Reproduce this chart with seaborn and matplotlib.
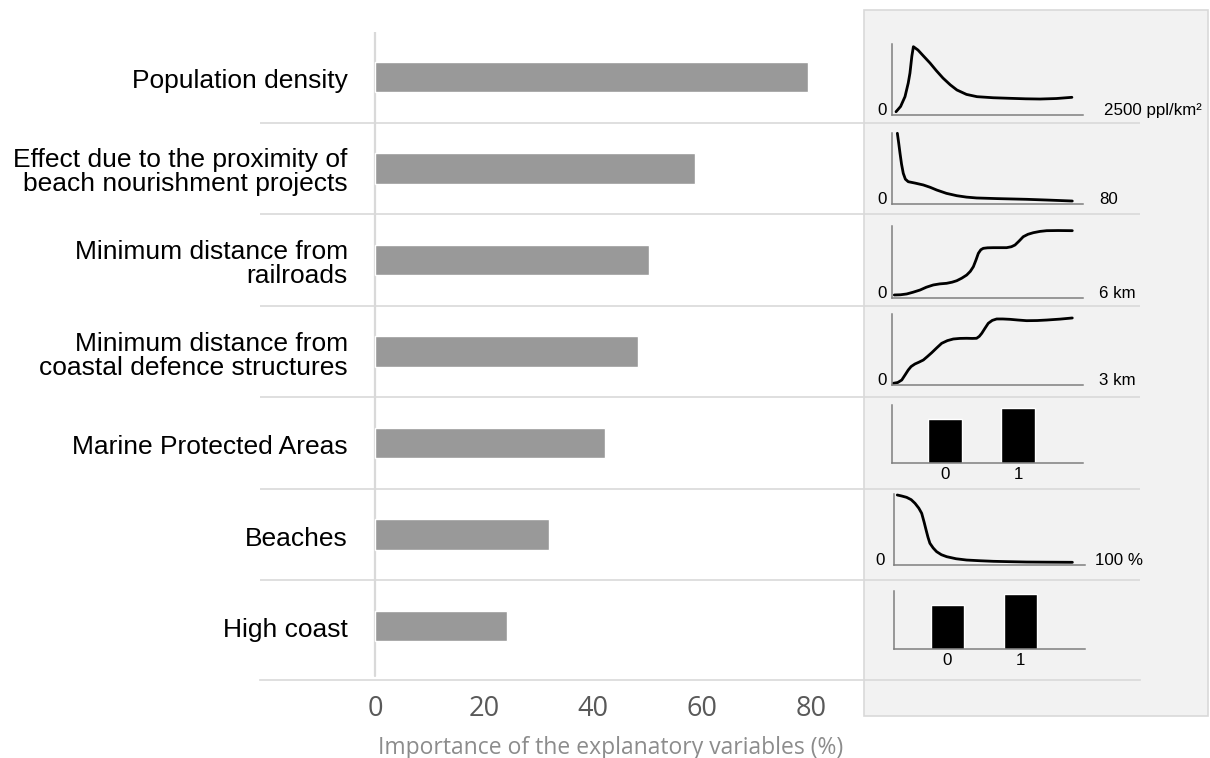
import matplotlib
matplotlib.use('Agg')
import matplotlib.pyplot as plt
import matplotlib.patches as mpatches
import pandas as pd
import seaborn as sns

# importance of each explanatory variable (%)
variables = [
    'Population density',
    'Effect due to the proximity of\nbeach nourishment projects',
    'Minimum distance from\nrailroads',
    'Minimum distance from\ncoastal defence structures',
    'Marine Protected Areas',
    'Beaches',
    'High coast',
]
importance = [79.4, 58.7, 50.3, 48.3, 42.2, 31.9, 24.3]
x_ticks = [0, 20, 40, 60, 80]

# response curves
# x = share of the variable range, y = share of the panel height
pop_x = [0.021, 0.045, 0.068, 0.085, 0.094, 0.104, 0.112, 0.136, 0.165, 0.199, 0.232, 0.267,
         0.305, 0.340, 0.390, 0.445, 0.530, 0.618, 0.700, 0.775, 0.860, 0.942]
pop_y = [0.046, 0.120, 0.258, 0.450, 0.590, 0.830, 0.962, 0.915, 0.830, 0.732, 0.625, 0.520,
         0.425, 0.352, 0.290, 0.258, 0.243, 0.235, 0.228, 0.225, 0.232, 0.249]
nour_x = [0.028, 0.035, 0.042, 0.050, 0.059, 0.070, 0.085, 0.120, 0.164, 0.200, 0.234, 0.285,
          0.339, 0.390, 0.443, 0.550, 0.705, 0.820, 0.944]
nour_y = [0.996, 0.860, 0.714, 0.560, 0.432, 0.350, 0.314, 0.295, 0.268, 0.235, 0.197, 0.150,
          0.117, 0.097, 0.085, 0.076, 0.066, 0.055, 0.042]
rail_x = [0.012, 0.045, 0.077, 0.110, 0.147, 0.180, 0.216, 0.250, 0.286, 0.315, 0.339, 0.365,
          0.391, 0.410, 0.426, 0.440, 0.452, 0.465, 0.478, 0.500, 0.530, 0.565, 0.600, 0.625,
          0.644, 0.665, 0.687, 0.712, 0.740, 0.775, 0.810, 0.870, 0.944]
rail_y = [0.042, 0.045, 0.056, 0.080, 0.111, 0.150, 0.181, 0.196, 0.204, 0.220, 0.240, 0.275,
          0.319, 0.370, 0.435, 0.530, 0.620, 0.670, 0.690, 0.697, 0.699, 0.699, 0.699, 0.712,
          0.736, 0.790, 0.851, 0.885, 0.907, 0.925, 0.935, 0.937, 0.935]
defence_x = [0.007, 0.030, 0.051, 0.068, 0.085, 0.100, 0.120, 0.140, 0.164, 0.185, 0.208,
             0.235, 0.260, 0.290, 0.321, 0.355, 0.391, 0.420, 0.443, 0.457, 0.470, 0.487,
             0.504, 0.525, 0.548, 0.580, 0.618, 0.660, 0.705, 0.760, 0.810, 0.880, 0.944]
defence_y = [0.024, 0.035, 0.070, 0.140, 0.211, 0.260, 0.296, 0.320, 0.352, 0.400, 0.455,
             0.525, 0.587, 0.625, 0.648, 0.656, 0.658, 0.656, 0.658, 0.685, 0.728, 0.800,
             0.869, 0.910, 0.930, 0.930, 0.925, 0.915, 0.906, 0.908, 0.915, 0.928, 0.944]
beach_x = [0.017, 0.040, 0.066, 0.090, 0.110, 0.130, 0.145, 0.158, 0.168, 0.178, 0.188,
           0.205, 0.223, 0.248, 0.276, 0.325, 0.380, 0.450, 0.520, 0.600, 0.695, 0.800, 0.934]
beach_y = [0.986, 0.972, 0.953, 0.920, 0.869, 0.800, 0.728, 0.600, 0.493, 0.390, 0.306,
           0.240, 0.188, 0.145, 0.117, 0.088, 0.070, 0.060, 0.052, 0.047, 0.042, 0.040, 0.038]

# binary variables: relative response for class 0 and class 1
classes = ['0', '1']
mpa_bars = [0.76, 0.95]
high_coast_bars = [0.76, 0.95]

units = ['2500 ppl/km²', '80', '6 km', '3 km', '100 %']

W, H = 1210, 758
GRID = '#d9d9d9'
SMALL = 12.2


def px_rect(left, top, right, bottom):
    return [left / W, 1 - bottom / H, (right - left) / W, (bottom - top) / H]


def style_inset(ax):
    ax.set_facecolor('none')
    sns.despine(ax=ax)
    for side in ['left', 'bottom']:
        ax.spines[side].set_color('#7f7f7f')
        ax.spines[side].set_linewidth(1.1)
    ax.set_xlabel('')
    ax.set_ylabel('')
    ax.set_yticks([])


def draw_curve(fig, rect, xs, ys, unit, unit_x, zero_x):
    ax = fig.add_axes(rect)
    sns.lineplot(x=xs, y=ys, color='black', linewidth=2.0, ax=ax)
    for line in ax.lines:
        line.set_clip_on(False)
    ax.set_xlim(0, 1)
    ax.set_ylim(0, 1)
    style_inset(ax)
    ax.set_xticks([])
    ax.text(zero_x, 0, '0', transform=ax.transAxes, ha='right', va='baseline',
            fontsize=SMALL, color='black')
    ax.text(unit_x, 0, unit, transform=ax.transAxes, ha='left', va='baseline',
            fontsize=SMALL, color='black')


def draw_bars(fig, rect, values, left):
    ax = fig.add_axes(rect)
    sns.barplot(x=classes, y=values, color='black', saturation=1, width=0.46, ax=ax)
    ax.set_xlim(left, 1.88)
    ax.set_ylim(0, 1)
    style_inset(ax)
    ax.tick_params(axis='x', length=0, pad=3, labelsize=SMALL, labelcolor='black')


sns.set_style('white')
plt.rcParams['font.family'] = ['Liberation Sans', 'DejaVu Sans']

fig = plt.figure(figsize=(W / 100, H / 100), dpi=100)

# grey box behind the response curves
panel = mpatches.Rectangle((864 / W, 1 - 716 / H), (1208 - 864) / W, (716 - 10) / H,
                           transform=fig.transFigure, facecolor='#f2f2f2',
                           edgecolor=GRID, linewidth=1.2, zorder=-1)
fig.patches.append(panel)

ax = fig.add_axes(px_rect(260, 32, 1140, 680))
ax.set_facecolor('none')
df = pd.DataFrame({'variable': variables, 'importance': importance})
sns.barplot(data=df, x='importance', y='variable', orient='h', color='#999999',
            saturation=1, width=0.335, ax=ax)
ax.set_xlim(-21.1, 140.4)
ax.set_ylim(6.59, -0.49)

sns.despine(ax=ax, left=True)
ax.spines['bottom'].set_color(GRID)
ax.spines['bottom'].set_linewidth(1.2)
ax.axvline(0, ymin=0.006, ymax=1, color=GRID, linewidth=1.6, zorder=0)
for i in range(len(variables) - 1):
    ax.axhline(i + 0.5, color=GRID, linewidth=1.2, zorder=0)

ax.set_yticks([])
ax.set_ylabel('')
ax.set_xlabel('')
ax.set_xticks(x_ticks)
ax.set_xticklabels([str(t) for t in x_ticks], fontsize=19.5, color='#595959',
                   family='Open Sans')
ax.tick_params(axis='x', length=0, pad=10.5)

for i, name in enumerate(variables):
    ax.text(-5.0, i + 0.045, name, ha='right', va='center', fontsize=19, color='black',
            linespacing=1.0)

fig.text(611 / W, 1 - 754 / H, 'Importance of the explanatory variables (%)',
         ha='center', va='baseline', fontsize=16.5, color='#8c8c8c', family='Open Sans')

# small response panels on the right
draw_curve(fig, px_rect(892, 44, 1083, 115), pop_x, pop_y, units[0], 1.11, -0.026)
draw_curve(fig, px_rect(892, 133, 1083, 204), nour_x, nour_y, units[1], 1.084, -0.026)
draw_curve(fig, px_rect(892, 226, 1083, 298), rail_x, rail_y, units[2], 1.084, -0.026)
draw_curve(fig, px_rect(892, 314, 1083, 385), defence_x, defence_y, units[3], 1.084, -0.026)
draw_bars(fig, px_rect(892, 405, 1083, 463), mpa_bars, -0.72)
draw_curve(fig, px_rect(894, 494, 1085, 565), beach_x, beach_y, units[4], 1.05, -0.05)
draw_bars(fig, px_rect(894, 591, 1085, 649), high_coast_bars, -0.73)

fig.savefig('out.png', dpi=100)
